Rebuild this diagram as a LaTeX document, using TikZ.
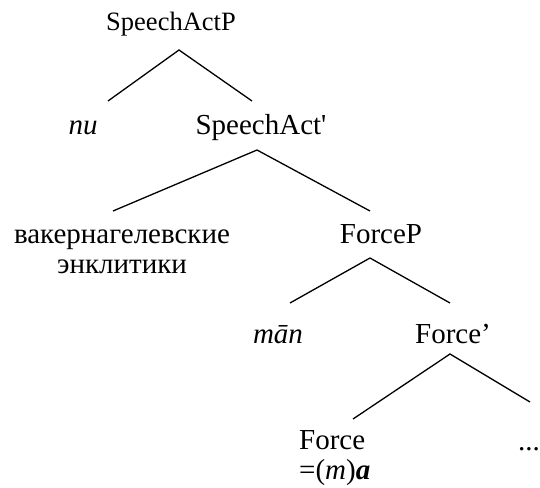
\documentclass[tikz,border=0pt]{standalone}
\usepackage{fontspec}
\newfontfamily\tfont{Liberation Serif}
\begin{document}
\begin{tikzpicture}[x=1pt,y=-1pt,
  lbl/.style={font=\tfont\fontsize{29}{30}\selectfont, inner sep=0pt, anchor=base},
  lblw/.style={font=\tfont\fontsize{29}{30}\selectfont, inner sep=0pt, anchor=base west, align=left},
  br/.style={line width=1.3pt}]
\useasboundingbox (0,0) rectangle (540,487);
% labels (multi-line nodes: base = last line's baseline)
\node[lbl, font=\tfont\fontsize{26.5}{30}\selectfont] (sap) at (171,31) {SpeechActP};
\node[lbl] (nu) at (83,134) {\itshape nu};
\node[lbl] (sa) at (261,134) {SpeechAct'};
\node[lbl, align=center] (wack) at (122,273) {вакернагелевские\\энклитики};
\node[lbl] (fp) at (381,243) {ForceP};
\node[lbl] (man) at (278,343) {\itshape mān};
\node[lbl] (fb) at (453,343) {Force’};
\node[lblw] (f) at (299,479) {Force\\=(\textit{m})\textbf{\textit{a}}};
\node[lbl] (dots) at (529,450) {...};
% branch points
\coordinate (a1) at (179,50);  \coordinate (l1) at (108,101); \coordinate (r1) at (252,101);
\coordinate (a2) at (257,150); \coordinate (l2) at (113,211); \coordinate (r2) at (370,211);
\coordinate (a3) at (370,258); \coordinate (l3) at (290,303); \coordinate (r3) at (450,303);
\coordinate (a4) at (450,354); \coordinate (l4) at (353,419); \coordinate (r4) at (530,402);
\draw[br] (l1) -- (a1) -- (r1);
\draw[br] (l2) -- (a2) -- (r2);
\draw[br] (l3) -- (a3) -- (r3);
\draw[br] (l4) -- (a4) -- (r4);
\end{tikzpicture}
\end{document}
